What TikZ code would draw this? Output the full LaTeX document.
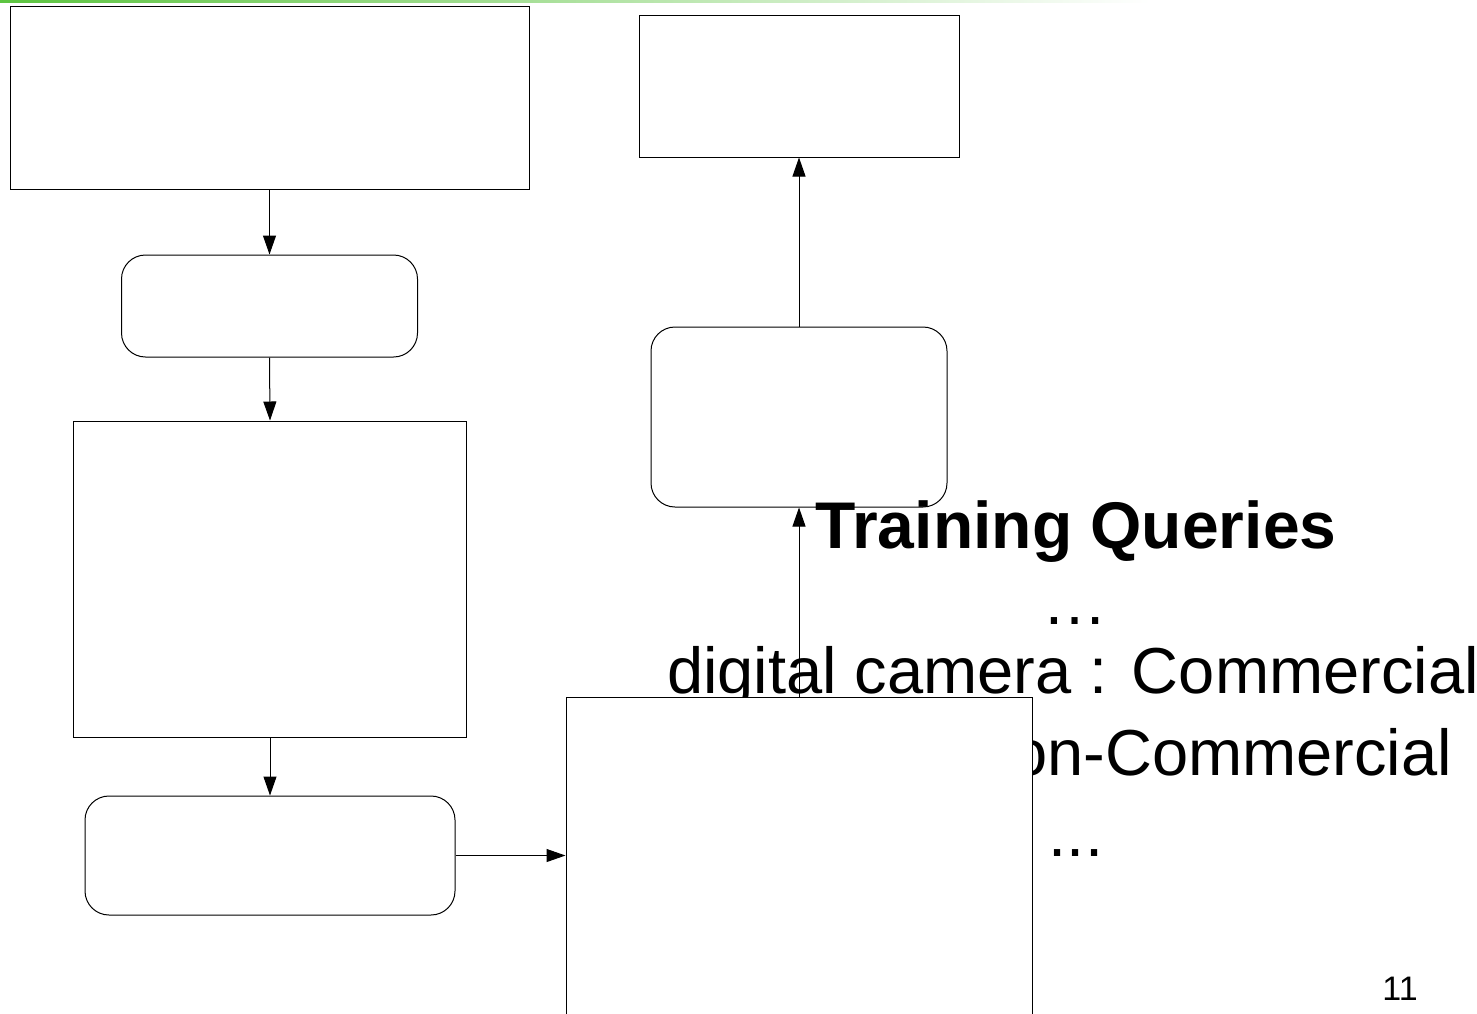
\documentclass[tikz,border=0pt]{standalone}
\usepackage{fontspec}
\setmainfont{Liberation Sans}
\usetikzlibrary{arrows.meta}
\definecolor{topgreen}{RGB}{92,196,64}
\begin{document}
\begin{tikzpicture}[x=1pt,y=-1pt,
  box/.style={draw=black, line width=1pt, inner sep=0pt},
  rbox/.style={box, rounded corners=24pt},
  conn/.style={draw=black, line width=1pt, -{Triangle[length=19pt,width=13pt]}},
  txt/.style={inner sep=0pt, font=\fontsize{65}{78}\selectfont},
]
\useasboundingbox (0,0) rectangle (1477,1013);
\clip (0,0) rectangle (1477,1013);
\fill[white] (0,0) rectangle (1477,1013);
\shade[left color=topgreen, right color=white] (0,0) rectangle (1150,2.5);

% texts
\node[txt, anchor=base, font=\bfseries\fontsize{66}{79}\selectfont] (tq) at (1076,548) {Training Queries};
\node[txt, anchor=base] (d1) at (1075,624) {…};
\node[txt, anchor=base west] (l1) at (667,693) {digital camera : Commercial};
\node[txt, anchor=base east] (l2) at (1452,775) {Non-Commercial};
\node[txt, anchor=base] (d2) at (1076,856) {...};
\node[inner sep=0pt, anchor=base, font=\fontsize{34}{40}\selectfont] (pg) at (1400,1000) {11};

% boxes
\node[box, minimum width=519pt, minimum height=183pt] (A) at (269.5,97.5) {};
\node[rbox, minimum width=296pt, minimum height=102pt] (B) at (269.5,306) {};
\node[box, minimum width=393pt, minimum height=316pt] (C) at (270,579) {};
\node[rbox, minimum width=370pt, minimum height=119pt] (D) at (270,855.5) {};
\node[box, fill=white, minimum width=466pt, minimum height=333pt] (E) at (799,863.5) {};
\node[rbox, minimum width=296pt, minimum height=180pt] (F) at (799,417) {};
\node[box, minimum width=320pt, minimum height=142pt] (G) at (799,86) {};

% connectors
\draw[conn] (A.south) -- (B.north);
\draw[conn] (B.south) -- (C.north);
\draw[conn] (C.south) -- (D.north);
\draw[conn] (D.east) -- (E.west |- D.east);
\draw[conn] (E.north) -- (F.south);
\draw[conn] (F.north) -- (G.south);
\end{tikzpicture}
\end{document}
